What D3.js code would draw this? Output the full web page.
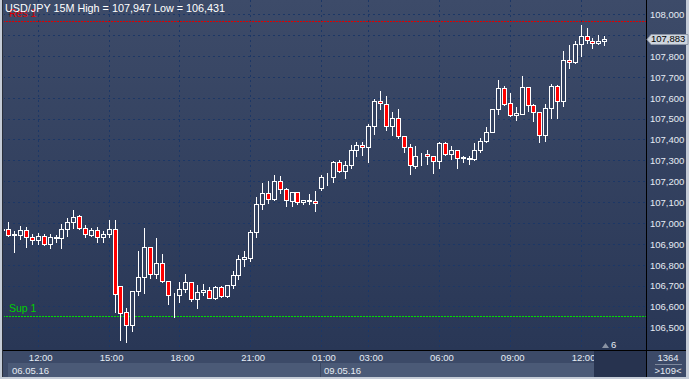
<!DOCTYPE html>
<html><head><meta charset="utf-8">
<script src="https://cdn.jsdelivr.net/npm/d3@7"></script>
<style>html,body{margin:0;padding:0;background:#c5ccd7;overflow:hidden}svg{display:block}</style>
</head><body>
<svg id="c" width="689" height="379"></svg>
<script>
const times = [
"06.05 10:30","06.05 10:45","06.05 11:00","06.05 11:15","06.05 11:30","06.05 11:45",
"06.05 12:00","06.05 12:15","06.05 12:30","06.05 12:45","06.05 13:00","06.05 13:15","06.05 13:30","06.05 13:45",
"06.05 14:00","06.05 14:15","06.05 14:30","06.05 14:45","06.05 15:00","06.05 15:15","06.05 15:30","06.05 15:45",
"06.05 16:00","06.05 16:15","06.05 16:30","06.05 16:45","06.05 17:00","06.05 17:15","06.05 17:30","06.05 17:45",
"06.05 18:00","06.05 18:15","06.05 18:30","06.05 18:45","06.05 19:00","06.05 19:15","06.05 19:30","06.05 19:45",
"06.05 20:00","06.05 20:15","06.05 20:30","06.05 20:45","06.05 21:00","06.05 21:15","06.05 21:30","06.05 21:45",
"06.05 22:00","06.05 22:15","06.05 22:30","06.05 22:45","06.05 23:00","06.05 23:15","06.05 23:30","06.05 23:45",
"09.05 01:00","09.05 01:15","09.05 01:30","09.05 01:45","09.05 02:00","09.05 02:15","09.05 02:30","09.05 02:45",
"09.05 03:00","09.05 03:15","09.05 03:30","09.05 03:45","09.05 04:00","09.05 04:15","09.05 04:30","09.05 04:45",
"09.05 05:00","09.05 05:15","09.05 05:30","09.05 05:45","09.05 06:00","09.05 06:15","09.05 06:30","09.05 06:45",
"09.05 07:00","09.05 07:15","09.05 07:30","09.05 07:45","09.05 08:00","09.05 08:15","09.05 08:30","09.05 08:45",
"09.05 09:00","09.05 09:15","09.05 09:30","09.05 09:45","09.05 10:00","09.05 10:15","09.05 10:30","09.05 10:45",
"09.05 11:00","09.05 11:15","09.05 11:30","09.05 11:45","09.05 12:00","09.05 12:15","09.05 12:30","09.05 12:45",
"09.05 13:00"];
const opens = [106.971,106.971,106.945,106.941,106.966,106.931,106.917,106.936,106.898,106.930,106.927,106.970,107.003,107.032,106.975,106.944,106.965,106.931,106.946,106.970,106.698,106.572,106.510,106.676,106.740,106.883,106.754,106.810,106.722,106.658,106.655,106.682,106.719,106.634,106.668,106.679,106.642,106.693,106.652,106.701,106.751,106.826,106.834,106.955,107.090,107.142,107.114,107.203,107.161,107.107,107.147,107.099,107.112,107.105,107.169,107.224,107.219,107.291,107.251,107.276,107.348,107.372,107.363,107.463,107.585,107.572,107.466,107.502,107.418,107.363,107.275,107.324,107.331,107.320,107.299,107.383,107.329,107.350,107.313,107.308,107.305,107.348,107.393,107.435,107.545,107.645,107.574,107.516,107.524,107.650,107.564,107.530,107.420,107.550,107.656,107.585,107.780,107.771,107.856,107.897,107.874,107.862,107.871];
const highs = [106.976,107.006,106.962,106.987,106.982,106.946,106.951,106.946,106.946,106.942,106.994,107.025,107.062,107.036,106.990,106.975,106.981,106.962,107.014,107.014,106.698,106.591,106.676,106.866,106.975,106.883,106.930,106.850,106.722,106.663,106.716,106.757,106.719,106.703,106.706,106.695,106.697,106.697,106.703,106.770,106.847,106.866,106.966,107.123,107.190,107.203,107.230,107.225,107.169,107.150,107.150,107.112,107.140,107.153,107.230,107.238,107.297,107.302,107.297,107.374,107.387,107.390,107.476,107.594,107.632,107.607,107.530,107.546,107.418,107.377,107.369,107.335,107.350,107.320,107.390,107.390,107.369,107.350,107.322,107.320,107.382,107.409,107.459,107.545,107.685,107.656,107.621,107.556,107.704,107.650,107.572,107.530,107.569,107.665,107.661,107.824,107.853,107.872,107.947,107.933,107.885,107.901,107.897];
const lows = [106.962,106.938,106.862,106.922,106.883,106.898,106.898,106.895,106.879,106.910,106.879,106.939,106.975,106.971,106.934,106.939,106.910,106.910,106.934,106.572,106.439,106.431,106.484,106.655,106.663,106.735,106.735,106.719,106.610,106.551,106.623,106.671,106.626,106.594,106.655,106.639,106.636,106.645,106.645,106.687,106.732,106.795,106.818,106.934,107.067,107.097,107.110,107.142,107.083,107.083,107.091,107.091,107.091,107.058,107.158,107.182,107.195,107.243,107.217,107.265,107.322,107.326,107.294,107.426,107.546,107.447,107.422,107.409,107.342,107.233,107.265,107.278,107.284,107.241,107.265,107.326,107.307,107.265,107.294,107.284,107.302,107.342,107.390,107.435,107.521,107.565,107.514,107.494,107.521,107.538,107.489,107.387,107.393,107.505,107.505,107.562,107.744,107.768,107.802,107.861,107.840,107.859,107.854];
const closes = [106.966,106.941,106.942,106.966,106.931,106.919,106.938,106.898,106.933,106.931,106.970,107.003,107.030,106.975,106.946,106.965,106.931,106.946,106.970,106.658,106.570,106.510,106.676,106.740,106.883,106.754,106.810,106.722,106.655,106.660,106.682,106.719,106.634,106.668,106.678,106.642,106.693,106.652,106.701,106.751,106.828,106.836,106.955,107.090,107.142,107.114,107.203,107.161,107.109,107.147,107.099,107.112,107.104,107.094,107.220,107.225,107.291,107.251,107.276,107.348,107.372,107.363,107.463,107.585,107.574,107.466,107.502,107.418,107.363,107.276,107.322,107.327,107.320,107.299,107.383,107.329,107.350,107.313,107.315,107.310,107.348,107.393,107.435,107.545,107.645,107.572,107.516,107.526,107.650,107.564,107.530,107.420,107.550,107.656,107.585,107.781,107.771,107.856,107.897,107.877,107.862,107.871,107.883];

const priceTicks = [106.5,106.6,106.7,106.8,106.9,107.0,107.1,107.2,107.3,107.4,107.5,107.6,107.7,107.8,107.9,108.0];
const priceLabelTicks = [106.5,106.6,106.7,106.8,106.9,107.0,107.1,107.2,107.3,107.4,107.5,107.6,107.7,107.8,108.0];
const timeTicks = ["06.05 12:00","06.05 15:00","06.05 18:00","06.05 21:00","09.05 01:00","09.05 03:00","09.05 06:00","09.05 09:00","09.05 12:00"];
const timeTickLabels = ["12:00","15:00","18:00","21:00","01:00","03:00","06:00","09:00","12:00"];
const dateLabels = ["06.05.16","09.05.16"];
const dateStarts = ["06.05 10:30","09.05 01:00"];
const resLevel = 107.970, supLevel = 106.553;
const title = "USD/JPY 15M High = 107,947 Low = 106,431";

const svg = d3.select("#c");
const FONT = "'Liberation Sans', Arial, sans-serif";
const PL = 3, PR = 646, PT = 0, PB = 350;

const defs = svg.append("defs");
const g1 = defs.append("linearGradient").attr("id","bg").attr("x1",0).attr("y1",0).attr("x2",0).attr("y2",1);
g1.append("stop").attr("offset","0%").attr("stop-color","#3d4b69");
g1.append("stop").attr("offset","100%").attr("stop-color","#293756");
defs.append("clipPath").attr("id","plotclip").append("rect").attr("x",PL+1).attr("y",PT).attr("width",PR-PL-1).attr("height",PB-PT);

svg.append("rect").attr("x",0).attr("y",0).attr("width",689).attr("height",379).attr("fill","#c5ccd7");
svg.append("rect").attr("x",PL).attr("y",0).attr("width",686-PL).attr("height",PB).attr("fill","url(#bg)");
svg.append("rect").attr("x",PL).attr("y",PB).attr("width",686-PL).attr("height",27).attr("fill","#3c4a68");

const x = d3.scaleBand().domain(times).range([-0.55, -0.55 + times.length*5.9]).padding(0);
const cx = t => Math.round(x(t) + x.bandwidth()/2);
const y = d3.scaleLinear().domain([106.5, 108.0]).range([327.3, 14.3]);
const fmt = v => d3.format(".3f")(v).replace(".", ",");

const grid = svg.append("g").attr("clip-path","url(#plotclip)");
grid.selectAll("line.h").data(priceTicks).join("line")
  .attr("x1",PL).attr("x2",PR).attr("y1",d=>Math.round(y(d))+0.5).attr("y2",d=>Math.round(y(d))+0.5)
  .attr("stroke","#1c3766").attr("stroke-width",1).attr("stroke-dasharray","2,3");
grid.selectAll("line.v").data(timeTicks).join("line")
  .attr("y1",PT).attr("y2",PB).attr("x1",d=>cx(d)+0.5).attr("x2",d=>cx(d)+0.5)
  .attr("stroke","#1c3766").attr("stroke-width",1).attr("stroke-dasharray","2,3");

grid.append("line").attr("x1",PL).attr("x2",PR).attr("y1",Math.round(y(resLevel))+0.5).attr("y2",Math.round(y(resLevel))+0.5)
  .attr("stroke","#e00000").attr("stroke-dasharray","2,1");
grid.append("line").attr("x1",PL).attr("x2",PR).attr("y1",Math.round(y(supLevel))+0.5).attr("y2",Math.round(y(supLevel))+0.5)
  .attr("stroke","#00e000").attr("stroke-dasharray","2,1");

const data = times.map((t,i)=>({t, o:opens[i], h:highs[i], l:lows[i], c:closes[i]}));
const cg = svg.append("g").attr("clip-path","url(#plotclip)");
const cand = cg.selectAll("g.cd").data(data).join("g");
cand.append("line")
  .attr("x1",d=>cx(d.t)+0.5).attr("x2",d=>cx(d.t)+0.5)
  .attr("y1",d=>Math.round(y(d.h))).attr("y2",d=>Math.round(y(d.l))+1)
  .attr("stroke","#ffffff").attr("stroke-width",1);
cand.append("rect")
  .attr("x",d=>cx(d.t)-1.5).attr("width",4)
  .attr("y",d=>Math.round(y(Math.max(d.o,d.c)))+0.5)
  .attr("height",d=>Math.max(0, Math.round(y(Math.min(d.o,d.c))) - Math.round(y(Math.max(d.o,d.c)))))
  .attr("fill",d=>d.c < d.o ? "#ff0000" : "#33415f")
  .attr("stroke","#ffffff").attr("stroke-width",1);

svg.append("text").attr("x",9).attr("y",312).attr("fill","#00d000").attr("font-family",FONT).attr("font-size",10.5).text("Sup 1");
svg.append("text").attr("x",9).attr("y",17).attr("fill","#e00000").attr("font-family",FONT).attr("font-size",10.5).text("Res 1");
svg.append("text").attr("x",5).attr("y",12).attr("fill","#ffffff").attr("font-family",FONT).attr("font-size",10.8).text(title);

svg.append("line").attr("x1",PR+0.5).attr("x2",PR+0.5).attr("y1",0).attr("y2",377).attr("stroke","#000");
svg.append("line").attr("x1",PL).attr("x2",686).attr("y1",PB+0.5).attr("y2",PB+0.5).attr("stroke","#000");
svg.append("line").attr("x1",PL-0.5).attr("x2",PL-0.5).attr("y1",0).attr("y2",377).attr("stroke","#2a2f3a");

const ya = d3.axisRight(y).tickValues(priceLabelTicks).tickFormat(fmt).tickSize(0).tickPadding(0);
const yg = svg.append("g").attr("transform",`translate(${PR+4},0)`).call(ya);
yg.select(".domain").remove();
yg.selectAll("text").attr("fill","#e6ecf4").attr("font-family",FONT).attr("font-size",9.5).attr("dy","0.35em");

const lastC = closes[closes.length-1];
const py = Math.round(y(lastC));
svg.append("path").attr("d",`M${PR+1},${py+0.5} L${PR+5},${py-4.5} L688,${py-4.5} L688,${py+5.5} L${PR+5},${py+5.5} Z`)
  .attr("fill","#cdd4de").attr("stroke","#8d96a6").attr("stroke-width",1);
svg.append("text").attr("x",PR+5).attr("y",py).attr("dy","0.35em").attr("fill","#000").attr("font-family",FONT).attr("font-size",9.5).text(fmt(lastC));

const xa = d3.axisBottom(x).tickValues(timeTicks).tickFormat((d,i)=>timeTickLabels[i]).tickSize(0).tickPadding(0);
const xg = svg.append("g").attr("transform",`translate(${x.bandwidth()/2},354)`).call(xa);
xg.select(".domain").remove();
xg.selectAll("text").attr("fill","#e6ecf4").attr("font-family",FONT).attr("font-size",9.5).attr("dy","0.71em");

svg.append("rect").attr("x",8).attr("y",363).attr("width",586).attr("height",14).attr("fill","#4b5a77");
svg.selectAll("line.ds").data([dateStarts[1]]).join("line")
  .attr("x1",d=>cx(d)-0.5).attr("x2",d=>cx(d)-0.5).attr("y1",363).attr("y2",377).attr("stroke","#3a4763");
svg.selectAll("text.dl").data(dateLabels).join("text")
  .attr("x",(d,i)=> i===0 ? 12 : cx(dateStarts[i])+3).attr("y",374)
  .attr("fill","#e6ecf4").attr("font-family",FONT).attr("font-size",9.5).text(d=>d);

svg.append("rect").attr("x",594).attr("y",351).attr("width",52).attr("height",26).attr("fill","#27334f");
svg.append("path").attr("d","M602,348 L605.5,343 L609,348 Z").attr("fill","#8a93a3");
svg.append("text").attr("x",611).attr("y",348).attr("fill","#e6ecf4").attr("font-family",FONT).attr("font-size",9.5).text("6");

svg.append("text").attr("x",668).attr("y",361).attr("text-anchor","middle").attr("fill","#e6ecf4").attr("font-family",FONT).attr("font-size",9.5).text("1364");
svg.append("line").attr("x1",655).attr("x2",682).attr("y1",364.5).attr("y2",364.5).attr("stroke","#7d889c");
svg.append("text").attr("x",668).attr("y",374).attr("text-anchor","middle").attr("fill","#e6ecf4").attr("font-family",FONT).attr("font-size",9.5).text(">109<");
</script>
</body></html>
